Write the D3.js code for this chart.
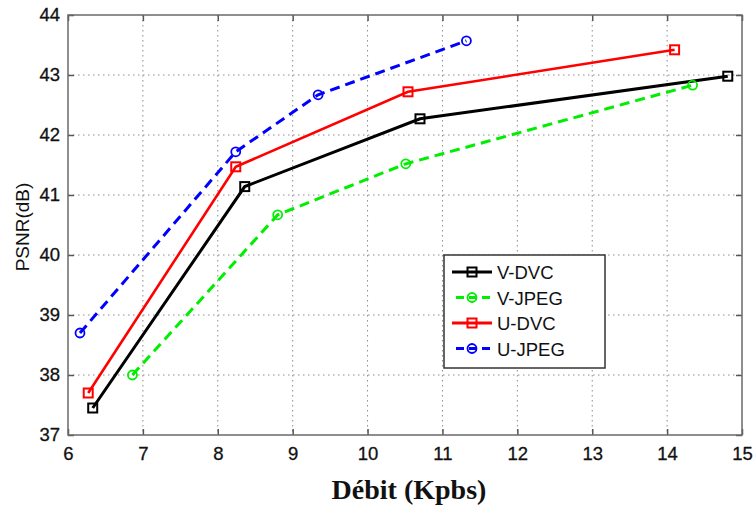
<!DOCTYPE html>
<html>
<head>
<meta charset="utf-8">
<script src="https://cdn.jsdelivr.net/npm/d3@7/dist/d3.min.js"></script>
<style>
  html, body { margin: 0; padding: 0; background: #fff; }
  svg { display: block; }
</style>
</head>
<body>
<svg id="chart" width="755" height="506"></svg>
<script>
// Rate (Kpbs) vs PSNR (dB)
const xTicks = [6, 7, 8, 9, 10, 11, 12, 13, 14, 15];
const yTicks = [37, 38, 39, 40, 41, 42, 43, 44];

const vDvcX  = [6.33, 8.36, 10.70, 14.81];
const vDvcY  = [37.45, 41.14, 42.27, 42.98];
const vJpegX = [6.86, 8.80, 10.51, 14.34];
const vJpegY = [38.00, 40.67, 41.52, 42.83];
const uDvcX  = [6.27, 8.24, 10.54, 14.10];
const uDvcY  = [37.70, 41.47, 42.72, 43.42];
const uJpegX = [6.16, 8.24, 9.34, 11.32];
const uJpegY = [38.70, 41.72, 42.67, 43.57];

const seriesNames = ["V-DVC", "V-JPEG", "U-DVC", "U-JPEG"];

const series = [
  { name: seriesNames[0], xs: vDvcX,  ys: vDvcY,  color: "#000000", dash: null,    marker: "square", w: 3 },
  { name: seriesNames[1], xs: vJpegX, ys: vJpegY, color: "#00ee00", dash: "10,6",  marker: "circle", w: 3 },
  { name: seriesNames[2], xs: uDvcX,  ys: uDvcY,  color: "#ff0000", dash: null,    marker: "square", w: 2.6 },
  { name: seriesNames[3], xs: uJpegX, ys: uJpegY, color: "#0000ff", dash: "10,6",  marker: "circle", w: 3 }
];

const svg = d3.select("#chart");
const plotL = 68, plotR = 742, plotT = 15, plotB = 435;
const sans = "Liberation Sans, Arial, sans-serif";

const x = d3.scaleLinear().domain([6, 15]).range([plotL, plotR]);
const y = d3.scaleLinear().domain([37, 44]).range([plotB, plotT]);

// dotted grid
const grid = svg.append("g").attr("stroke", "#8c8c8c").attr("stroke-width", 1)
  .attr("stroke-dasharray", "1.5,3.5");
grid.selectAll("line.gx").data(xTicks.slice(1, -1)).enter().append("line")
  .attr("x1", d => x(d)).attr("x2", d => x(d)).attr("y1", plotT).attr("y2", plotB);
grid.selectAll("line.gy").data(yTicks.slice(1, -1)).enter().append("line")
  .attr("y1", d => y(d)).attr("y2", d => y(d)).attr("x1", plotL).attr("x2", plotR);

// axes with inward ticks
const tickStyle = g => {
  g.select(".domain").remove();
  g.selectAll(".tick line").attr("stroke", "#555").attr("stroke-width", 1.5);
  g.selectAll(".tick text")
    .attr("font-family", sans)
    .attr("font-size", 18.5).attr("fill", "#111")
    .attr("stroke", "#111").attr("stroke-width", 0.3);
};
svg.append("g").attr("transform", `translate(0,${plotB})`)
  .call(d3.axisBottom(x).tickValues(xTicks).tickSize(-6).tickPadding(12).tickFormat(d3.format("d")))
  .call(tickStyle);
svg.append("g").attr("transform", `translate(0,${plotT})`)
  .call(d3.axisTop(x).tickValues(xTicks).tickSize(-6).tickFormat(""))
  .call(tickStyle);
svg.append("g").attr("transform", `translate(${plotL},0)`)
  .call(d3.axisLeft(y).tickValues(yTicks).tickSize(-6).tickPadding(8).tickFormat(d3.format("d")))
  .call(tickStyle);
svg.append("g").attr("transform", `translate(${plotR},0)`)
  .call(d3.axisRight(y).tickValues(yTicks).tickSize(-6).tickFormat(""))
  .call(tickStyle);

// plot frame
svg.append("rect").attr("x", plotL).attr("y", plotT)
  .attr("width", plotR - plotL).attr("height", plotB - plotT)
  .attr("fill", "none").attr("stroke", "#6a6a6a").attr("stroke-width", 1.5);

// series
const line = d3.line().x(d => x(d[0])).y(d => y(d[1]));

function drawMarker(g, cx, cy, s) {
  if (s.marker === "square") {
    g.append("rect").attr("x", cx - 4.5).attr("y", cy - 4.5).attr("width", 9).attr("height", 9)
      .attr("fill", "none").attr("stroke", s.color).attr("stroke-width", 2);
  } else {
    g.append("circle").attr("cx", cx).attr("cy", cy).attr("r", 4.5)
      .attr("fill", "none").attr("stroke", s.color).attr("stroke-width", 1.8);
  }
}

series.forEach(s => {
  const pts = s.xs.map((v, i) => [v, s.ys[i]]);
  const g = svg.append("g");
  g.append("path").attr("d", line(pts)).attr("fill", "none")
    .attr("stroke", s.color).attr("stroke-width", s.w)
    .attr("stroke-dasharray", s.dash);
  pts.forEach(p => drawMarker(g, x(p[0]), y(p[1]), s));
});

// legend
const lg = svg.append("g");
lg.append("rect").attr("x", 444).attr("y", 255).attr("width", 161).attr("height", 113)
  .attr("fill", "#fff").attr("stroke", "#333").attr("stroke-width", 1.5);
series.forEach((s, i) => {
  const ly = 272 + i * 25.5;
  lg.append("line").attr("x1", 452).attr("x2", 492).attr("y1", ly).attr("y2", ly)
    .attr("stroke", s.color).attr("stroke-width", 3)
    .attr("stroke-dasharray", s.dash ? "8,5" : null)
    .attr("stroke-dashoffset", s.dash ? -4 : null);
  drawMarker(lg, 472, ly, s);
  lg.append("text").attr("x", 497).attr("y", ly + 7).text(s.name)
    .attr("font-family", sans)
    .attr("font-size", 18.5).attr("fill", "#111");
});

// axis titles
svg.append("text").attr("transform", `translate(29,${(plotT + plotB) / 2 + 2}) rotate(-90)`)
  .attr("text-anchor", "middle").text("PSNR(dB)")
  .attr("font-family", sans)
  .attr("font-size", 19).attr("fill", "#111");
svg.append("text").attr("x", 409).attr("y", 499)
  .attr("text-anchor", "middle").text("Débit (Kpbs)")
  .attr("font-family", "Liberation Serif, Times New Roman, serif")
  .attr("font-weight", "bold").attr("font-size", 28).attr("fill", "#111");
</script>
</body>
</html>
